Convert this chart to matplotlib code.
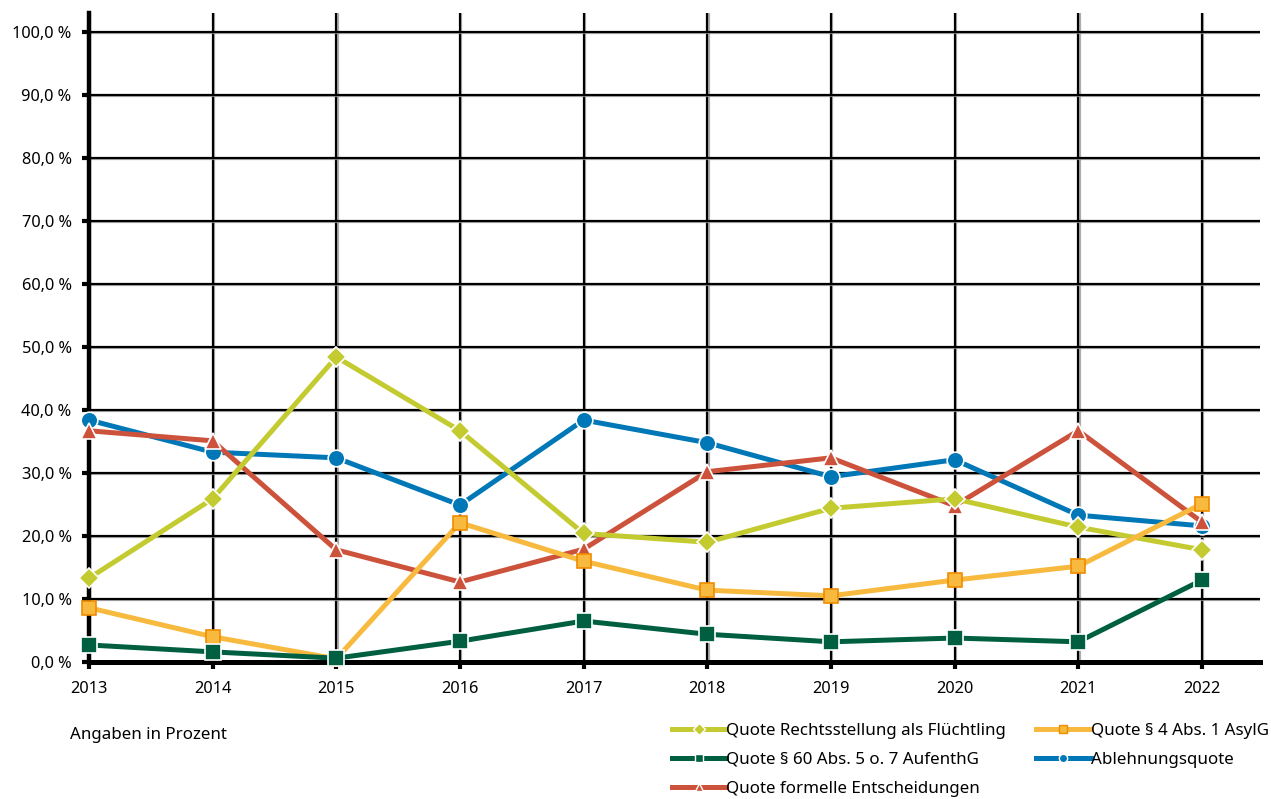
import matplotlib
matplotlib.use("Agg")
import matplotlib.pyplot as plt
import matplotlib.patheffects as pe
from matplotlib.lines import Line2D
from matplotlib.ticker import FuncFormatter

years = [2013, 2014, 2015, 2016, 2017, 2018, 2019, 2020, 2021, 2022]

# Quoten in Prozent
quote_fluechtling = [13.3, 25.9, 48.4, 36.7, 20.4, 19.0, 24.4, 25.9, 21.4, 17.8]
quote_asylg = [8.6, 4.0, 0.5, 22.1, 16.0, 11.4, 10.5, 13.0, 15.2, 25.1]
quote_aufenthg = [2.7, 1.6, 0.6, 3.3, 6.5, 4.4, 3.2, 3.8, 3.2, 13.0]
ablehnungsquote = [38.4, 33.3, 32.4, 24.9, 38.4, 34.8, 29.4, 32.1, 23.3, 21.6]
quote_formell = [36.7, 35.1, 17.8, 12.7, 17.9, 30.2, 32.4, 24.8, 36.7, 22.2]

labels = ["Quote Rechtsstellung als Flüchtling", "Quote § 4 Abs. 1 AsylG",
          "Quote § 60 Abs. 5 o. 7 AufenthG", "Ablehnungsquote",
          "Quote formelle Entscheidungen"]

plt.rcParams['font.family'] = ['Noto Sans', 'DejaVu Sans']

fig = plt.figure(figsize=(12.71, 7.99), dpi=100)
ax = fig.add_axes([0.0700, 0.1715, 0.9214, 0.8122])

lw = 3.6
# (werte, farbe, marker, markerfarbe, randfarbe, markergroesse, zorder)
series = [
    (quote_fluechtling, "#c3cb30", "D", "#c3cb30", "white", 10, 5),
    (quote_asylg, "#f7ba3e", "s", "#f7ba3e", "#f08c00", 10, 6),
    (quote_aufenthg, "#005f40", "s", "#005f40", "white", 11, 7),
    (ablehnungsquote, "#0077b6", "o", "#0077b6", "white", 12, 3),
    (quote_formell, "#cd523b", "^", "#cd523b", "white", 12, 4),
]

handles = []
for (vals, col, mk, mfc, mec, ms, z), lab in zip(series, labels):
    ax.plot(years, vals, color=col, lw=lw, marker=mk, markersize=ms,
            markerfacecolor=mfc, markeredgecolor=mec, markeredgewidth=1.2,
            zorder=z, clip_on=False)
    handles.append(Line2D([], [], color=col, lw=lw, marker=mk, markersize=6,
                          markerfacecolor=mfc, markeredgecolor=mec,
                          markeredgewidth=1.0, label=lab))

ax.set_xlim(2013, 2022.47)
ax.set_ylim(0, 103)
ax.set_xticks(years)
ax.set_yticks(range(0, 101, 10))
ax.yaxis.set_major_formatter(FuncFormatter(lambda v, p: f"{v:.1f} %".replace(".", ",")))

grid_fx = [pe.SimpleLineShadow(offset=(1, -1), shadow_color="#999999", alpha=0.8), pe.Normal()]
ax.grid(True, color="black", lw=1.6, path_effects=grid_fx, zorder=1)
ax.set_axisbelow(True)

for s in ["top", "right"]:
    ax.spines[s].set_visible(False)
ax.spines["left"].set_linewidth(3.2)
ax.spines["bottom"].set_linewidth(3.6)
ax.spines["bottom"].set_zorder(2)

ax.tick_params(axis="both", length=5, width=3, labelsize=11.8, colors="black")
ax.tick_params(axis="x", pad=9)
ax.tick_params(axis="y", pad=7.5)

fig.text(0.055, 0.0805, "Angaben in Prozent", fontsize=12.2, va="center")

# Reihenfolge so, dass die Legende zeilenweise wie im Original gelesen wird
order = [0, 2, 4, 1, 3]
fig.legend(handles=[handles[i] for i in order],
           loc="upper left", bbox_to_anchor=(0.5285, 0.095), ncol=2, frameon=False,
           fontsize=12.2, handlelength=3.2, handletextpad=0.0, columnspacing=1.8,
           labelspacing=0.76, borderaxespad=0, borderpad=0)

fig.savefig("out.png", dpi=100)
